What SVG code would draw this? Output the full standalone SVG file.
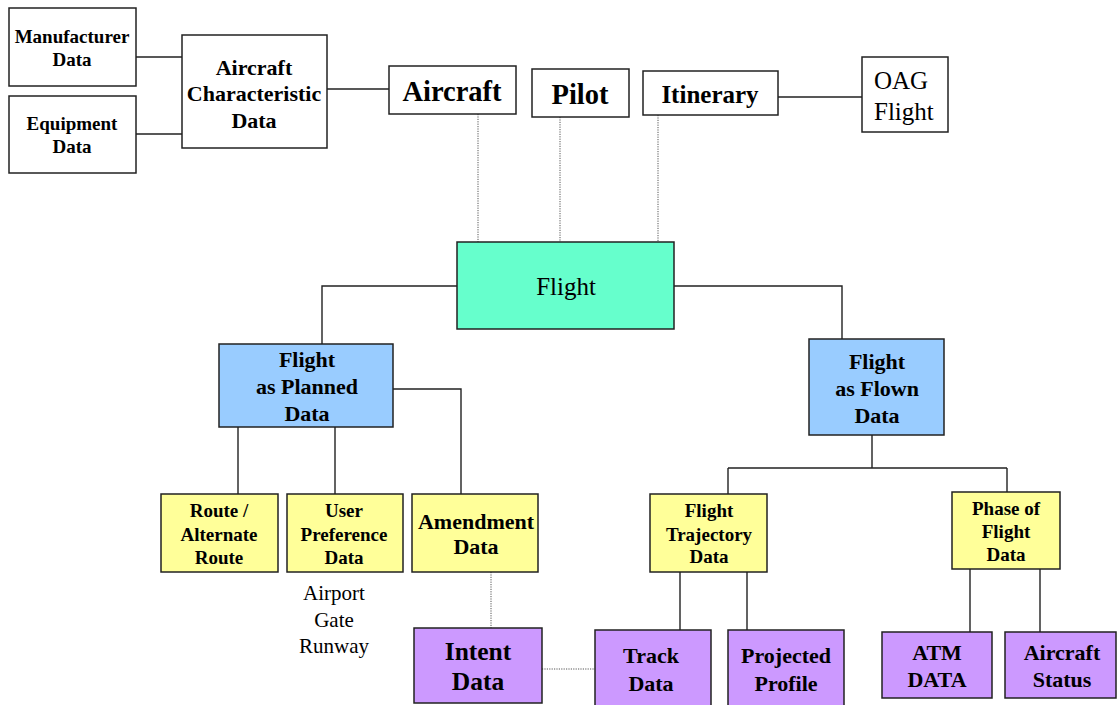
<svg xmlns="http://www.w3.org/2000/svg" width="1117" height="705" viewBox="0 0 1117 705">
<style>
.box{stroke:#222;stroke-width:1.5}
.w{fill:#fff}
.g{fill:#66FFCC}
.b{fill:#99CCFF}
.y{fill:#FFFF99}
.p{fill:#CC99FF}
.t{font-family:"Liberation Serif","Times New Roman",serif;font-weight:bold;fill:#000;text-anchor:middle}
.r{font-family:"Liberation Serif","Times New Roman",serif;fill:#000;text-anchor:middle}
.s{font-size:19px}
.m{font-size:22px}
.ln{stroke:#222;stroke-width:1.4;fill:none}
.dt{stroke:#555;stroke-width:1;stroke-dasharray:1.2 1.2;fill:none}
</style>
<g id="connectors">
<path class="ln" d="M136 57H182M136 134H182M327 89H389M778 97H862"/>
<path class="dt" d="M478 114V243M560 117V242M658 115V242"/>
<path class="ln" d="M457 286H322V344M674 286H842V339"/>
<path class="ln" d="M393 389H461V494M238 427V494M335 427V494"/>
<path class="ln" d="M872 435V468M728 468H1007M728 468V494M1007 468V492"/>
<path class="ln" d="M680 572V630M747 572V630M970 569V632M1040 569V632"/>
<path class="dt" d="M491 572V637M542 669H595"/>
</g>
<g id="manufacturer"><rect class="box w" x="9" y="8" width="127" height="78"/><text class="t s" x="72" y="43">Manufacturer</text><text class="t s" x="72" y="66">Data</text></g>
<g id="equipment"><rect class="box w" x="9" y="96" width="127" height="77"/><text class="t s" x="72" y="130">Equipment</text><text class="t s" x="72" y="153">Data</text></g>
<g id="acchar"><rect class="box w" x="182" y="35" width="145" height="113"/><text class="t m" x="254" y="75">Aircraft</text><text class="t m" x="254" y="101">Characteristic</text><text class="t m" x="254" y="128">Data</text></g>
<g id="aircraft"><rect class="box w" x="389" y="66" width="127" height="48"/><text class="t" font-size="28.5" x="452" y="101">Aircraft</text></g>
<g id="pilot"><rect class="box w" x="532" y="69" width="97" height="48"/><text class="t" font-size="28.5" x="580" y="104">Pilot</text></g>
<g id="itinerary"><rect class="box w" x="643" y="71" width="135" height="44"/><text class="t" font-size="25" x="710" y="103">Itinerary</text></g>
<g id="oag"><rect class="box w" x="862" y="57" width="86" height="75"/><text class="r" font-size="25" x="874" y="89" style="text-anchor:start">OAG</text><text class="r" font-size="25" x="874" y="120" style="text-anchor:start">Flight</text></g>
<g id="flight"><rect class="box g" x="457" y="242" width="217" height="87"/><text class="r" font-size="25" x="566" y="295">Flight</text></g>
<g id="planned"><rect class="box b" x="219" y="344" width="174" height="83"/><text class="t m" x="307" y="367">Flight</text><text class="t m" x="307" y="394">as Planned</text><text class="t m" x="307" y="421">Data</text></g>
<g id="flown"><rect class="box b" x="809" y="339" width="135" height="96"/><text class="t m" x="877" y="369">Flight</text><text class="t m" x="877" y="396">as Flown</text><text class="t m" x="877" y="423">Data</text></g>
<g id="route"><rect class="box y" x="161" y="494" width="117" height="78"/><text class="t s" x="219" y="517">Route /</text><text class="t s" x="219" y="541">Alternate</text><text class="t s" x="219" y="564">Route</text></g>
<g id="userpref"><rect class="box y" x="287" y="494" width="116" height="78"/><text class="t s" x="344" y="517">User</text><text class="t s" x="344" y="541">Preference</text><text class="t s" x="344" y="564">Data</text></g>
<g id="amendment"><rect class="box y" x="412" y="494" width="126" height="78"/><text class="t m" x="476" y="529">Amendment</text><text class="t m" x="476" y="554">Data</text></g>
<g id="airportnote"><text class="r" font-size="21" x="334" y="600">Airport</text><text class="r" font-size="21" x="334" y="627">Gate</text><text class="r" font-size="21" x="334" y="653">Runway</text></g>
<g id="intent"><rect class="box p" x="414" y="628" width="128" height="75"/><text class="t" font-size="25.5" x="478" y="660">Intent</text><text class="t" font-size="25.5" x="478" y="690">Data</text></g>
<g id="trajectory"><rect class="box y" x="650" y="494" width="117" height="78"/><text class="t s" x="709" y="517">Flight</text><text class="t s" x="709" y="541">Trajectory</text><text class="t s" x="709" y="563">Data</text></g>
<g id="phase"><rect class="box y" x="952" y="492" width="108" height="77"/><text class="t s" x="1006" y="515">Phase of</text><text class="t s" x="1006" y="538">Flight</text><text class="t s" x="1006" y="561">Data</text></g>
<g id="track"><rect class="box p" x="595" y="630" width="116" height="78"/><text class="t m" x="651" y="663">Track</text><text class="t m" x="651" y="691">Data</text></g>
<g id="projected"><rect class="box p" x="728" y="630" width="116" height="78"/><text class="t m" x="786" y="663">Projected</text><text class="t m" x="786" y="691">Profile</text></g>
<g id="atm"><rect class="box p" x="882" y="632" width="110" height="66"/><text class="t m" x="937" y="660">ATM</text><text class="t m" x="937" y="687">DATA</text></g>
<g id="acstatus"><rect class="box p" x="1005" y="632" width="111" height="66"/><text class="t m" x="1062" y="660">Aircraft</text><text class="t m" x="1062" y="687">Status</text></g>
</svg>
